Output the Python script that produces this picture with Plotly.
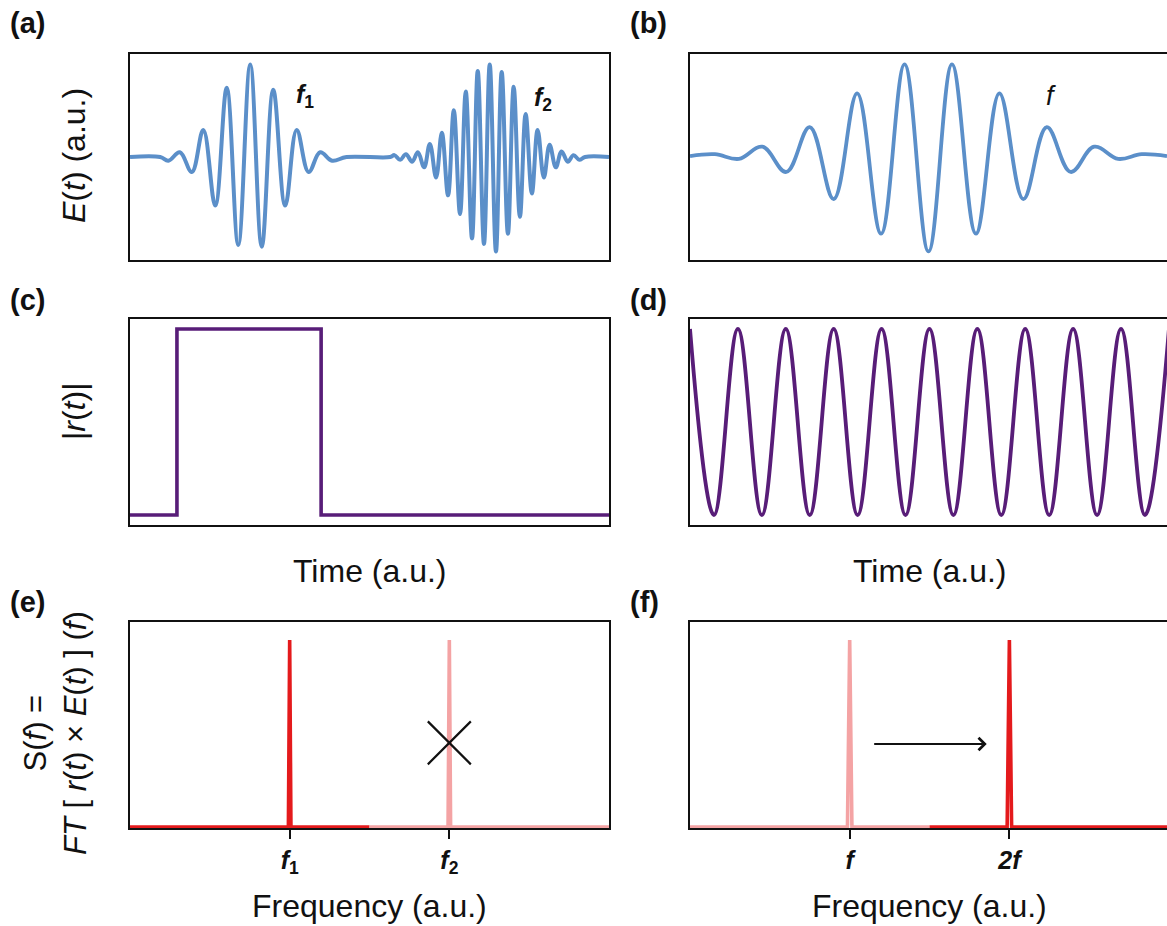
import plotly.graph_objects as go

FONT = "Liberation Sans, Arial, sans-serif"
BLUE = "#5b8fc9"
PURPLE = "#581d78"
RED = "#e41a1c"
PINK = "#f4a3a4"
BLACK = "#111111"

# ---------------- data ----------------
# (a) two wave packets E(t): turning points of the field, time and amplitude in a.u.
t_field_a = [0.00, 0.63,
             0.80, 1.04, 1.29, 1.53, 1.78, 2.02, 2.26, 2.51, 2.75, 2.99, 3.24, 3.48, 3.73, 3.97, 4.22,
             4.52, 5.43, 5.52,
             5.64, 5.76, 5.89, 6.01, 6.14, 6.26, 6.39, 6.51, 6.64, 6.76, 6.89, 7.01, 7.14, 7.26, 7.39, 7.51,
             7.64, 7.76, 7.89, 8.01, 8.14, 8.26, 8.39, 8.51, 8.64, 8.76, 8.89, 9.01, 9.14, 9.26, 9.38,
             9.50, 10.00]
E_field_a = [0.00, 0.00,
             -0.04, 0.05, -0.16, 0.29, -0.52, 0.74, -0.94, 0.99, -0.96, 0.72, -0.52, 0.29, -0.16, 0.05, -0.04,
             0.00, 0.00, 0.02,
             -0.03, 0.03, -0.05, 0.05, -0.11, 0.14, -0.22, 0.26, -0.41, 0.50, -0.61, 0.70, -0.87, 0.92, -0.93, 0.99,
             -1.01, 0.91, -0.82, 0.75, -0.64, 0.46, -0.39, 0.29, -0.22, 0.13, -0.11, 0.06, -0.05, 0.02, -0.03,
             0.00, 0.00]

# (b) single wave packet E(t)
t_field_b = [0.00, 0.52, 1.02, 1.51, 2.01, 2.50, 3.00, 3.49, 3.99, 4.48, 4.98,
             5.47, 5.97, 6.46, 6.96, 7.45, 7.95, 8.44, 8.94, 9.43, 9.96]
E_field_b = [0.01, 0.03, -0.02, 0.11, -0.16, 0.32, -0.45, 0.68, -0.82, 0.99, -1.01,
             0.99, -0.82, 0.68, -0.45, 0.32, -0.16, 0.11, -0.02, 0.03, 0.01]

# (c) gate |r(t)|
t_gate_c = [0.00, 0.98, 0.98, 3.99, 3.99, 10.00]
r_gate_c = [0, 0, 1, 1, 0, 0]

# (d) periodic modulation |r(t)|: maxima and minima
t_mod_d = [0.0, 0.5, 1.0, 1.5, 2.0, 2.5, 3.0, 3.5, 4.0, 4.5, 5.0,
           5.5, 6.0, 6.5, 7.0, 7.5, 8.0, 8.5, 9.0, 9.5, 10.0]
r_mod_d = [1, 0, 1, 0, 1, 0, 1, 0, 1, 0, 1,
           0, 1, 0, 1, 0, 1, 0, 1, 0, 1]

# (e) spectrum S(f): kept line at f1, suppressed line at f2
f_kept_e = [0.00, 0.992, 1.00, 1.008, 1.50]
S_kept_e = [0, 0, 1, 0, 0]
f_lost_e = [1.50, 1.992, 2.00, 2.008, 3.00]
S_lost_e = [0, 0, 1, 0, 0]

# (f) spectrum S(f): original line at f, shifted line at 2f
f_orig_f = [0.00, 0.986, 1.00, 1.014, 1.50]
S_orig_f = [0, 0, 1, 0, 0]
f_shift_f = [1.50, 1.986, 2.00, 2.014, 3.00]
S_shift_f = [0, 0, 1, 0, 0]

# frequency ticks
ticks_e = [1, 2]
ticklabels_e = ["<i>f</i><sub>1</sub>", "<i>f</i><sub>2</sub>"]
ticks_f = [1, 2]
ticklabels_f = ["<i>f</i>", "<i>2f</i>"]

# markers inside the spectra
cross_pos = (2.0, 0.45)
arrow_start = (1.144, 0.444)
arrow_end = (1.858, 0.444)

# ---------------- figure ----------------
fig = go.Figure()

def line(x, y, xa, ya, color, width, shape="spline", smoothing=1.1):
    kw = dict(shape=shape)
    if shape == "spline":
        kw["smoothing"] = smoothing
    fig.add_trace(go.Scatter(x=x, y=y, xaxis=xa, yaxis=ya, mode="lines",
                             line=dict(color=color, width=width, **kw),
                             hoverinfo="skip", showlegend=False))

line(t_field_a, E_field_a, "x", "y", BLUE, 4.0)
line(t_field_b, E_field_b, "x2", "y2", BLUE, 3.8)
line(t_gate_c, r_gate_c, "x3", "y3", PURPLE, 3.6, shape="linear")
line(t_mod_d, r_mod_d, "x4", "y4", PURPLE, 3.8)
line(f_kept_e, S_kept_e, "x5", "y5", RED, 3.6, shape="linear")
line(f_lost_e, S_lost_e, "x5", "y5", PINK, 3.6, shape="linear")
line(f_orig_f, S_orig_f, "x6", "y6", PINK, 3.6, shape="linear")
line(f_shift_f, S_shift_f, "x6", "y6", RED, 3.6, shape="linear")

fig.add_trace(go.Scatter(x=[cross_pos[0]], y=[cross_pos[1]], xaxis="x5", yaxis="y5",
                         mode="markers", hoverinfo="skip", showlegend=False,
                         marker=dict(symbol="x-thin", size=43,
                                     line=dict(color=BLACK, width=2.2))))

XL = [130 / 1167, 609 / 1167]
XR = [690 / 1167, 1.0]
Y1 = [1 - 260 / 926, 1 - 54 / 926]
Y2 = [1 - 525 / 926, 1 - 319 / 926]
Y3 = [1 - 828 / 926, 1 - 622 / 926]

def axis(domain, rng, anchor, mirror=True, **extra):
    d = dict(domain=domain, range=rng, anchor=anchor, showgrid=False, zeroline=False,
             showticklabels=False, ticks="", showline=True, linecolor=BLACK,
             linewidth=1.7, mirror=mirror, automargin=False, fixedrange=True)
    d.update(extra)
    return d

freq_tick = dict(showticklabels=True, ticks="outside", ticklen=9, tickwidth=1.7,
                 tickcolor=BLACK,
                 tickfont=dict(family=FONT, size=25, color=BLACK, weight="bold"))

E_rng = [-1.1016, 1.1016]
r_rng = [-0.0538, 1.0538]
S_rng = [-0.0053, 1.0963]

fig.update_layout(
    width=1167, height=926, template="none",
    margin=dict(l=0, r=0, t=0, b=0, pad=0),
    paper_bgcolor="white", plot_bgcolor="white", showlegend=False,
    font=dict(family=FONT, color=BLACK, size=30),
    xaxis=axis(XL, [0, 10], "y"),
    yaxis=axis(Y1, E_rng, "x"),
    xaxis2=axis(XR, [0, 9.96], "y2"),
    yaxis2=axis(Y1, E_rng, "x2", mirror=False),
    xaxis3=axis(XL, [0, 10], "y3"),
    yaxis3=axis(Y2, r_rng, "x3"),
    xaxis4=axis(XR, [0, 9.96], "y4"),
    yaxis4=axis(Y2, r_rng, "x4", mirror=False),
    xaxis5=axis(XL, [0, 3], "y5", tickvals=ticks_e, ticktext=ticklabels_e, **freq_tick),
    yaxis5=axis(Y3, S_rng, "x5"),
    xaxis6=axis(XR, [0, 2.987], "y6", tickvals=ticks_f, ticktext=ticklabels_f, **freq_tick),
    yaxis6=axis(Y3, S_rng, "x6", mirror=False),
)

ann = []

def paper_text(text, x, y, size, xanchor="center", angle=0, weight="normal"):
    ann.append(dict(text=text, x=x / 1167, y=1 - y / 926,
                    xref="paper", yref="paper", xanchor=xanchor, yanchor="middle",
                    showarrow=False, textangle=angle,
                    font=dict(family=FONT, size=size, color=BLACK, weight=weight)))

# panel letters
for lab, px, py in [("(a)", 8, 23), ("(b)", 628, 23), ("(c)", 8, 300),
                    ("(d)", 628, 300), ("(e)", 8, 602), ("(f)", 628, 602)]:
    paper_text(lab, px, py, 29, xanchor="left", weight="bold")

# axis titles
paper_text("<i>E</i>(<i>t</i>) (a.u.)", 74, 156, 32, angle=-90)
paper_text("|<i>r</i>(<i>t</i>)|", 74, 412, 32, angle=-90)
paper_text("S(<i>f</i>) =<br><i>FT</i> [ <i>r</i>(<i>t</i>) × <i>E</i>(<i>t</i>) ] (<i>f</i>)",
           55, 733, 31, angle=-90)
paper_text("Time (a.u.)", 369.5, 571, 32)
paper_text("Time (a.u.)", 929.5, 571, 32)
paper_text("Frequency (a.u.)", 369.5, 906, 32)
paper_text("Frequency (a.u.)", 929.5, 906, 32)

# pulse labels inside the field panels
for txt, xa, ya, x, y, sz, wt in [("<i>f</i><sub>1</sub>", "x", "y", 3.65, 0.65, 25, "bold"),
                                  ("<i>f</i><sub>2</sub>", "x", "y", 8.63, 0.62, 25, "bold"),
                                  ("<i>f</i>", "x2", "y2", 7.54, 0.65, 27, "normal")]:
    ann.append(dict(text=txt, x=x, y=y, xref=xa, yref=ya, showarrow=False,
                    xanchor="center", yanchor="middle",
                    font=dict(family=FONT, size=sz, color=BLACK, weight=wt)))

# frequency-doubling arrow
ann.append(dict(x=arrow_end[0], y=arrow_end[1], ax=arrow_start[0], ay=arrow_start[1],
                xref="x6", yref="y6", axref="x6", ayref="y6", text="",
                showarrow=True, arrowhead=4, arrowsize=1.1, arrowwidth=2.2,
                arrowcolor=BLACK))

fig.update_layout(annotations=ann)
fig.write_html("out.html")
